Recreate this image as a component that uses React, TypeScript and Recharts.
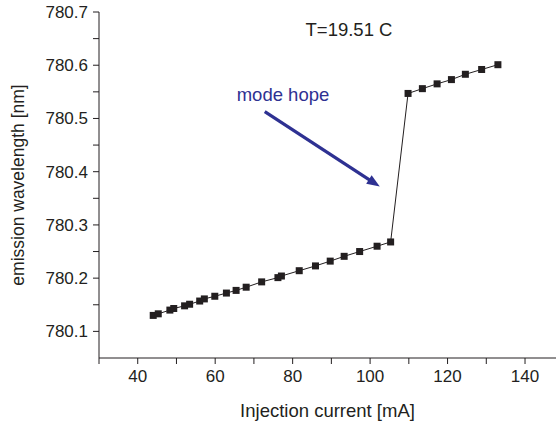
import { LineChart, Line, XAxis, YAxis, ReferenceLine, Label } from 'recharts';

// injection current [mA]
const current = [
    44.0, 45.3, 48.3, 49.3, 52.1, 53.4, 56.0, 57.2, 59.9, 62.9, 65.4, 68.0, 72.0, 76.2, 77.1,
    81.7, 85.9, 89.7, 93.3, 97.3, 101.8, 105.3,
    109.8, 113.5, 117.3, 121.0, 124.6, 128.8, 133.0,
];
// emission wavelength [nm]
const wavelength = [
    780.130, 780.133, 780.140, 780.143, 780.148, 780.151, 780.157, 780.161, 780.166, 780.172,
    780.177, 780.183, 780.193, 780.201, 780.204, 780.214, 780.223, 780.232, 780.241, 780.250,
    780.260, 780.268,
    780.547, 780.556, 780.565, 780.573, 780.583, 780.592, 780.601,
];

const xTicks = [30, 40, 50, 60, 70, 80, 90, 100, 110, 120, 130, 140];
const xLabels = [40, 60, 80, 100, 120, 140];
const yTicks = [780.1, 780.15, 780.2, 780.25, 780.3, 780.35, 780.4, 780.45, 780.5, 780.55, 780.6, 780.65, 780.7];
const yLabels = ['780.1', '780.2', '780.3', '780.4', '780.5', '780.6', '780.7'];

// arrow pointing at the mode hop, in data units
const arrowFrom = { x: 72.8, y: 780.513 };
const arrowTo = { x: 102.5, y: 780.372 };

const data = current.map((c, i) => ({ current: c, wavelength: wavelength[i] }));

const font = '"Liberation Sans", Arial, sans-serif';
const ink = '#231f20';
const blue = '#2e3192';

const SquareDot = (props: any) => {
    const { cx, cy } = props;
    if (cx == null || cy == null) return null;
    return <rect x={cx - 3.5} y={cy - 3.5} width={7} height={7} fill={ink} />;
};

const Arrow = (props: any) => {
    const { x1, y1, x2, y2 } = props;
    if (x1 == null) return null;
    const ang = Math.atan2(y2 - y1, x2 - x1);
    const len = 13;
    const w = 5;
    const bx = x2 - len * Math.cos(ang);
    const by = y2 - len * Math.sin(ang);
    const p1 = `${bx + w * Math.sin(ang)},${by - w * Math.cos(ang)}`;
    const p2 = `${bx - w * Math.sin(ang)},${by + w * Math.cos(ang)}`;
    return (
        <g>
            <line x1={x1} y1={y1} x2={bx + 2 * Math.cos(ang)} y2={by + 2 * Math.sin(ang)} stroke={blue} strokeWidth={3.2} />
            <polygon points={`${x2},${y2} ${p1} ${p2}`} fill={blue} />
        </g>
    );
};

const App = () => {
    return (
        <div style={{ position: 'absolute', left: 0, top: 0, background: '#fff' }}>
            <LineChart
                width={556}
                height={423}
                data={data}
                margin={{ top: 12, right: 0, bottom: 0, left: 0 }}
            >
                <XAxis
                    dataKey="current"
                    type="number"
                    domain={[30, 148]}
                    ticks={xTicks}
                    allowDataOverflow
                    height={65}
                    tickSize={6}
                    tickMargin={6}
                    stroke={ink}
                    tick={{ fill: ink, fontSize: 17, fontFamily: font }}
                    tickFormatter={(v: number) => (xLabels.includes(v) ? String(v) : '')}
                >
                    <Label
                        value="Injection current [mA]"
                        position="insideBottom"
                        offset={6}
                        style={{ fill: ink, fontSize: 18.5, fontFamily: font }}
                    />
                </XAxis>
                <YAxis
                    dataKey="wavelength"
                    type="number"
                    domain={[780.05, 780.7]}
                    ticks={yTicks}
                    allowDataOverflow
                    width={99}
                    tickSize={6}
                    tickMargin={5}
                    stroke={ink}
                    tick={{ fill: ink, fontSize: 17, fontFamily: font }}
                    tickFormatter={(v: number) => {
                        const s = v.toFixed(1);
                        return Math.abs(v - Number(s)) < 1e-6 && yLabels.includes(s) ? s : '';
                    }}
                >
                    <Label
                        value="emission wavelength [nm]"
                        angle={-90}
                        position="insideLeft"
                        offset={0}
                        dx={18}
                        style={{ fill: ink, fontSize: 17.5, fontFamily: font, textAnchor: 'middle' }}
                    />
                </YAxis>
                <ReferenceLine
                    segment={[arrowFrom, arrowTo]}
                    shape={Arrow}
                    ifOverflow="visible"
                />
                <Line
                    type="linear"
                    dataKey="wavelength"
                    stroke={ink}
                    strokeWidth={1}
                    dot={<SquareDot />}
                    activeDot={false}
                    isAnimationActive={false}
                />
                <text x={349} y={36} textAnchor="middle" fill={ink} fontSize={18.5} fontFamily={font}>
                    T=19.51 C
                </text>
                <text x={283} y={101} textAnchor="middle" fill={blue} fontSize={18.5} fontFamily={font}>
                    mode hope
                </text>
            </LineChart>
        </div>
    );
};

export default App;
